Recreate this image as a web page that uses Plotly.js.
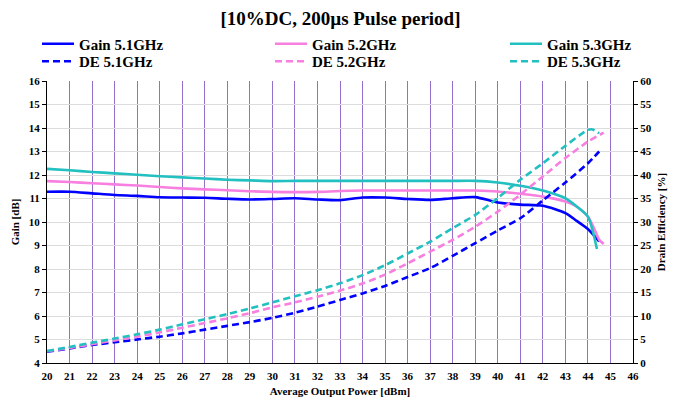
<!DOCTYPE html>
<html>
<head>
<meta charset="utf-8">
<script src="https://cdn.plot.ly/plotly-3.0.1.min.js"></script>
<style>html,body{margin:0;padding:0;background:#fff;}#chart{width:681px;height:400px;}</style>
</head>
<body>
<div id="chart"></div>
<script>
// ---- Data ----
const gainX = [20,21,22,23,24,25,26,27,28,29,30,31,32,33,34,35,36,37,38,39,40,41,42,43,43.5,44,44.5];
const gain51 = [11.29,11.29,11.22,11.15,11.11,11.05,11.04,11.03,10.99,10.96,10.98,11.01,10.96,10.93,11.04,11.04,10.98,10.94,11.01,11.06,10.83,10.74,10.69,10.38,10.05,9.70,9.17];

const gain52X = [20,21,22,23,24,25,26,27,28,29,30,31,32,33,34,35,36,37,38,39,40,41,42,43,43.5,44,44.3,44.5,44.7];
const gain52 = [11.74,11.70,11.65,11.60,11.55,11.49,11.43,11.39,11.35,11.31,11.28,11.27,11.28,11.32,11.34,11.34,11.34,11.34,11.34,11.34,11.30,11.20,11.08,10.87,10.66,10.23,9.67,9.24,9.07];

const gain53X = [20,21,22,23,24,25,26,27,28,29,30,31,32,33,34,35,36,37,38,39,40,41,42,43,43.5,44,44.2,44.4];
const gain53 = [12.26,12.20,12.13,12.07,12.01,11.95,11.90,11.85,11.80,11.77,11.74,11.75,11.75,11.75,11.75,11.75,11.75,11.75,11.75,11.75,11.68,11.54,11.34,11.01,10.66,10.23,9.67,8.85];

const de51X = [20,21,22,23,24,25,26,27,28,29,30,31,32,33,34,35,36,37,38,39,40,41,42,43,44,44.5];
const de51 = [2.4,3.1,3.83,4.4,5.0,5.6,6.3,7.1,7.9,8.7,9.6,10.7,12.0,13.4,14.8,16.4,18.3,20.2,22.8,25.5,28.2,30.8,34.6,38.4,42.5,45.0];

const de52X = [20,21,22,23,24,25,26,27,28,29,30,31,32,33,34,35,36,37,38,39,40,41,42,43,44,44.7];
const de52 = [2.5,3.2,4.0,4.8,5.6,6.5,7.5,8.5,9.5,10.6,11.85,12.9,14.1,15.4,16.9,18.8,21.2,23.7,26.2,29.0,32.2,35.8,39.7,43.6,47.1,49.0];

const de53X = [20,21,22,23,24,25,26,27,28,29,30,31,32,33,34,35,36,37,38,39,40,41,42,43,44,44.2,44.5];
const de53 = [2.55,3.4,4.33,5.2,6.1,7.1,8.23,9.3,10.4,11.6,12.9,14.2,15.5,16.95,18.7,20.8,23.3,25.8,28.7,31.5,35.1,39.0,42.5,46.2,49.6,49.7,48.9];

const names = ['Gain 5.1GHz','Gain 5.2GHz','Gain 5.3GHz','DE 5.1GHz','DE 5.2GHz','DE 5.3GHz'];
const colors = ['#0000ff','#f77fe0','#22c0c0'];

const FONT = 'Liberation Serif, Times New Roman, serif';
const lw = 2.6;

function tr(x, y, i, dash, axis, leg) {
  return {x: x, y: y, name: names[i], type: 'scatter', mode: 'lines',
    line: {color: colors[i % 3], width: lw, dash: dash, shape: 'spline', smoothing: 0.7},
    yaxis: axis, legend: leg, hoverinfo: 'skip'};
}

const DASH = '7px,4px';
const data = [
  tr(gainX, gain51, 0, 'solid', 'y', 'legend'),
  tr(gain52X, gain52, 1, 'solid', 'y', 'legend2'),
  tr(gain53X, gain53, 2, 'solid', 'y', 'legend3'),
  tr(de51X, de51, 3, DASH, 'y2', 'legend4'),
  tr(de52X, de52, 4, DASH, 'y2', 'legend5'),
  tr(de53X, de53, 5, DASH, 'y2', 'legend6')
];

const legFont = {family: FONT, size: 15, color: '#000', weight: 'bold'};
function leg(xp, yp) {
  return {x: xp, y: yp, xanchor: 'left', yanchor: 'middle', orientation: 'h',
    font: legFont, bgcolor: 'rgba(0,0,0,0)', borderwidth: 0, itemwidth: 32};
}
// pixel -> paper helpers (plot area: x 47..633, y 81..363)
const px = p => (p - 47) / 586;
const py = p => (363 - p) / 282;

const tickFont = {family: FONT, size: 11, color: '#000', weight: 'bold'};
const titleFont = {family: FONT, size: 11, color: '#000', weight: 'bold'};

const layout = {
  width: 681, height: 400,
  margin: {l: 47, r: 48, t: 81, b: 37},
  paper_bgcolor: '#fff', plot_bgcolor: '#fff',
  showlegend: true,
  title: {text: '[10%DC, 200µs Pulse period]', x: 0.5, xref: 'container', y: 1 - 18/400, yref: 'container', yanchor: 'middle',
    font: {family: FONT, size: 19, color: '#000', weight: 'bold'}},
  legend: leg(px(37), py(44)),
  legend2: leg(px(270), py(44)),
  legend3: leg(px(505), py(44)),
  legend4: leg(px(37), py(61.5)),
  legend5: leg(px(270), py(61.5)),
  legend6: leg(px(505), py(61.5)),
  xaxis: {range: [20, 46], dtick: 1, tick0: 20, showgrid: true, gridcolor: '#9470cc', gridwidth: 1,
    showline: true, linecolor: '#000', linewidth: 1, ticks: '', zeroline: false, ticklabelstandoff: 3,
    tickfont: tickFont, title: {text: 'Average Output Power [dBm]', font: titleFont, standoff: 6}},
  yaxis: {range: [4, 16], dtick: 1, tick0: 4, showgrid: true, gridcolor: '#dcdcdc', gridwidth: 1,
    showline: true, linecolor: '#000', linewidth: 1, ticks: 'outside', ticklen: 4, tickcolor: '#000', zeroline: false,
    tickfont: tickFont, title: {text: 'Gain [dB]', font: titleFont, standoff: 6}},
  yaxis2: {range: [0, 60], dtick: 5, tick0: 0, overlaying: 'y', side: 'right', showgrid: false,
    showline: true, linecolor: '#000', linewidth: 1, ticks: 'outside', ticklen: 4, tickcolor: '#000', zeroline: false,
    tickfont: tickFont, title: {text: 'Drain Efficiency [%]', font: titleFont, standoff: 6}}
};

Plotly.newPlot('chart', data, layout, {displayModeBar: false, staticPlot: true});
</script>
</body>
</html>
